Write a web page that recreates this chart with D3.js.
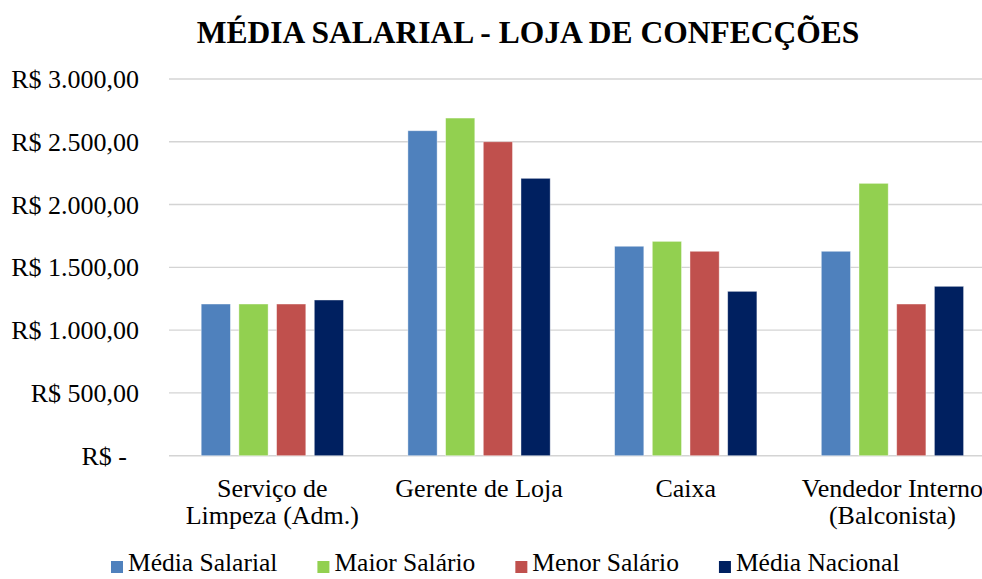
<!DOCTYPE html>
<html><head><meta charset="utf-8">
<script src="https://cdn.jsdelivr.net/npm/d3@7"></script>
</head>
<body style="margin:0">
<svg id="chart" width="982" height="579" font-family="Liberation Serif"></svg>
<script>
const title = "MÉDIA SALARIAL - LOJA DE CONFECÇÕES";
const categories = [["Serviço de","Limpeza (Adm.)"],["Gerente de Loja"],["Caixa"],["Vendedor Interno","(Balconista)"]];
const seriesNames = ["Média Salarial","Maior Salário","Menor Salário","Média Nacional"];
const mediaSalarial = [1208, 2588, 1668, 1628];
const maiorSalario  = [1208, 2689, 1707, 2169];
const menorSalario  = [1208, 2500, 1628, 1208];
const mediaNacional = [1240, 2209, 1309, 1349];
const yTicks = [0, 500, 1000, 1500, 2000, 2500, 3000];
const yTickLabels = ["R$ -","R$ 500,00","R$ 1.000,00","R$ 1.500,00","R$ 2.000,00","R$ 2.500,00","R$ 3.000,00"];
const colors = ["#4F81BD","#92D050","#C0504D","#002060"];

const FONT = "Liberation Serif";
const seriesValues = [mediaSalarial, maiorSalario, menorSalario, mediaNacional];
const svg = d3.select("#chart");
const plotLeft = 169, plotRight = 995.8, plotTop = 79, plotBottom = 455.7;

const x0 = d3.scaleBand().domain(d3.range(categories.length)).range([plotLeft, plotRight])
  .paddingInner(0.3116).paddingOuter(0.1558);
const x1 = d3.scaleBand().domain(d3.range(seriesNames.length)).range([0, x0.bandwidth()])
  .paddingInner(0.225).paddingOuter(0);
const y = d3.scaleLinear().domain([0, 3000]).range([plotBottom, plotTop]);

// gridlines
svg.append("g").selectAll("line").data(yTicks).join("line")
  .attr("x1", plotLeft).attr("x2", plotRight)
  .attr("y1", d => y(d)).attr("y2", d => y(d))
  .attr("stroke", "#D4D4D4").attr("stroke-width", 1.4);

// y labels
svg.append("g").selectAll("text").data(yTicks).join("text")
  .attr("font-family", FONT).attr("font-size", 26).attr("text-anchor", "end")
  .attr("x", d => d === 0 ? 127 : 139).attr("y", d => y(d) + 9)
  .text((d, i) => yTickLabels[i]);

// bars
const groups = svg.append("g").selectAll("g").data(categories).join("g")
  .attr("transform", (d, i) => `translate(${x0(i)},0)`);
groups.selectAll("rect").data((d, i) => seriesValues.map((s, j) => ({j, v: s[i]}))).join("rect")
  .attr("x", d => x1(d.j)).attr("width", x1.bandwidth())
  .attr("y", d => y(d.v)).attr("height", d => y(0) - y(d.v))
  .attr("fill", d => colors[d.j]).attr("stroke", "#ffffff").attr("stroke-opacity", 0.5).attr("stroke-width", 0.8);

// category labels
const cl = svg.append("g").selectAll("text").data(categories).join("text")
  .attr("text-anchor", "middle").attr("font-size", 26).attr("font-family", FONT)
  .attr("x", (d, i) => x0(i) + x0.bandwidth() / 2).attr("y", 496.5);
cl.selectAll("tspan").data(d => d).join("tspan")
  .attr("x", function() { return this.parentNode.getAttribute("x"); })
  .attr("dy", (d, i) => i === 0 ? 0 : 27.5).text(d => d);

// title
svg.append("text").attr("x", 528).attr("y", 42.5).attr("text-anchor", "middle")
  .attr("font-family", FONT).attr("font-size", 31.5).attr("font-weight", "bold").text(title);

// legend
const leg = svg.append("g");
let lx = 111;
seriesNames.forEach((name, i) => {
  leg.append("rect").attr("x", lx).attr("y", 561).attr("width", 12).attr("height", 12).attr("fill", colors[i]);
  const t = leg.append("text").attr("x", lx + 17).attr("y", 571).attr("font-size", 25.5)
    .attr("font-family", FONT).text(name);
  lx += 17 + t.node().getComputedTextLength() + 40;
});
</script></body></html>
